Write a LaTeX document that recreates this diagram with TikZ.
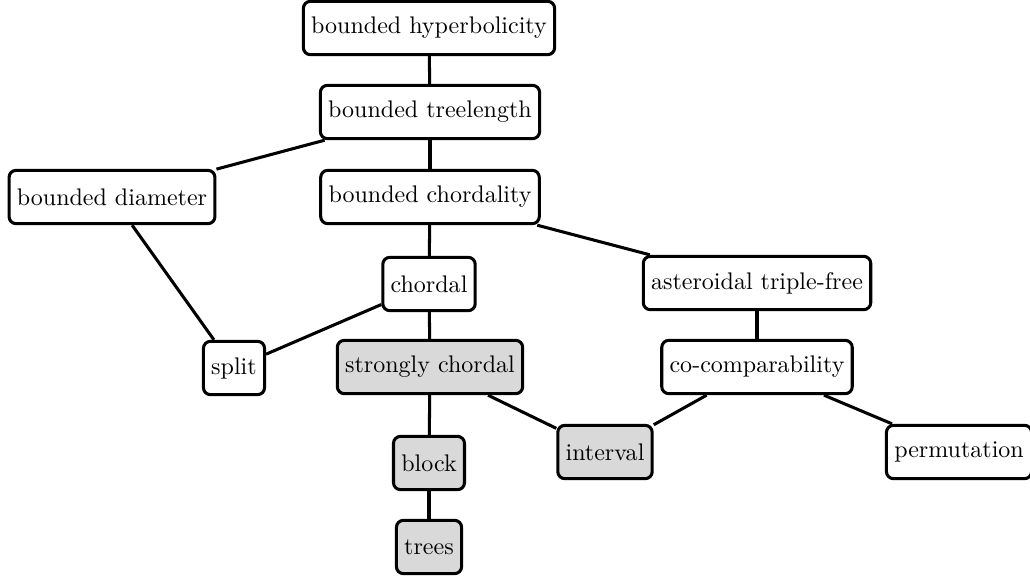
\documentclass[tikz,border=0pt]{standalone}
\usepackage{tikz}
\usetikzlibrary{calc}
\tikzset{cls/.style={draw,line width=1.3pt,rounded corners=3pt,fill=white,minimum height=0.8cm,
           font=\fontsize{10.25pt}{12pt}\selectfont},
         hcls/.style={cls,fill=gray!30}}

\begin{document}
\begin{tikzpicture}[every path/.style={line width=1.3pt}]
\useasboundingbox (0,0) rectangle (15.45,-8.715);
%[every node/.style={cls}]
\node (hyp) at (6.435,-0.42) [cls] {bounded hyperbolicity};
\node (tl) at (6.45,-1.68) [cls] {bounded treelength};
\node (diam) at (1.68,-2.955) [cls] {bounded diameter};
\node (chdy) at (6.45,-2.955) [cls] {bounded chordality};
\node (chordal) at (6.435,-4.26) [cls] {chordal};
\node (atf) at (11.355,-4.245) [cls] {asteroidal triple-free};
\node (split) at (3.51,-5.52) [cls] {split};
\node (sc) at (6.45,-5.505) [hcls] {strongly chordal};
\node (cocomp) at (11.355,-5.505) [cls] {co-comparability};
\node (interval) at (9.075,-6.78) [hcls] {interval};
\node (perm) at (14.385,-6.78) [cls] {permutation};
\node (block) at (6.435,-6.945) [hcls] {block};
\node (trees) at (6.435,-8.205) [hcls] {trees};
\draw (hyp)--(tl);
\draw (tl)--(chdy);
\draw (tl)--(diam);
\draw (chdy)--(chordal);
\draw (chdy)--(atf);
\draw (diam)--(split);
\draw (chordal)--(split);
\draw (chordal)--(sc);
\draw (atf)--(cocomp);
\draw (sc)--(block);
\draw (sc)--(interval);
\draw (cocomp)--(interval);
\draw (cocomp)--(perm);
\draw (block)--(trees);
\end{tikzpicture}
\end{document}
